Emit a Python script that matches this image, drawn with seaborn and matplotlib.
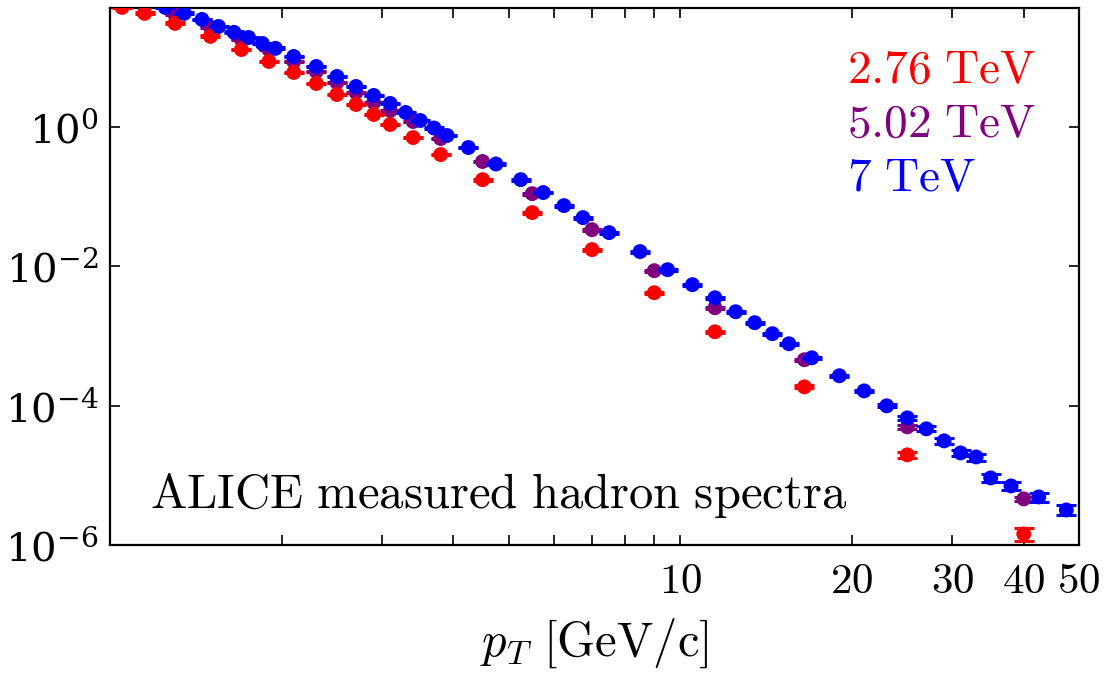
import numpy as np
import pandas as pd
import matplotlib
matplotlib.use("Agg")
import matplotlib.pyplot as plt
import matplotlib.ticker as mticker
import seaborn as sns

# ---- data ----
pt_276 = [1.05, 1.15, 1.3, 1.5, 1.7, 1.9, 2.1, 2.3, 2.5, 2.7, 2.9, 3.1, 3.4, 3.8,
          4.5, 5.5, 7.0, 9.0, 11.5, 16.5, 25.0, 40.0]
y_276 = [51, 41.9, 30.1, 19.6, 12.7, 8.57, 5.96, 4.14, 2.88, 2.07, 1.49, 1.07, 0.695, 0.396,
         0.173, 0.0583, 0.0172, 0.00414, 0.00114, 1.85e-4, 1.96e-5, 1.44e-6]
rel_276 = [0.03, 0.03, 0.03, 0.03, 0.03, 0.03, 0.03, 0.03, 0.03, 0.03, 0.03, 0.03, 0.03, 0.03,
           0.03, 0.03, 0.03, 0.03, 0.03, 0.05, 0.10, 0.20]

pt_502 = [1.15, 1.3, 1.5, 1.7, 1.9, 2.1, 2.3, 2.5, 2.7, 2.9, 3.1, 3.4, 3.8,
          4.5, 5.5, 7.0, 9.0, 11.5, 16.5, 25.0, 40.0]
y_502 = [52.8, 40.5, 26.4, 17.7, 12.7, 8.57, 6.16, 4.28, 3.08, 2.21, 1.70, 1.18, 0.673,
         0.315, 0.109, 0.0332, 0.00857, 0.00252, 4.53e-4, 4.94e-5, 4.58e-6]
rel_502 = [0.03, 0.03, 0.03, 0.03, 0.03, 0.03, 0.03, 0.03, 0.03, 0.03, 0.03, 0.03, 0.03,
           0.03, 0.03, 0.03, 0.03, 0.03, 0.04, 0.06, 0.06]

pt_7 = [1.25, 1.35, 1.45, 1.55, 1.65, 1.75, 1.85, 1.95, 2.1, 2.3, 2.5, 2.7, 2.9, 3.1,
        3.3, 3.5, 3.7, 3.9, 4.25, 4.75, 5.25, 5.75, 6.25, 6.75, 7.5, 8.5, 9.5, 10.5,
        11.5, 12.5, 13.5, 14.5, 15.5, 17, 19, 21, 23, 25, 27, 29, 31, 33, 35, 38, 42.5, 47.5]
y_7 = [51, 41.9, 34.3, 27.2, 22.4, 18.9, 15.5, 13.2, 10.1, 7.26, 5.22, 3.75, 2.79, 2.14,
       1.59, 1.22, 0.952, 0.743, 0.50, 0.29, 0.173, 0.113, 0.0735, 0.0494, 0.0301, 0.0161,
       0.00886, 0.0054, 0.00351, 0.00221, 0.00154, 0.00107, 7.68e-4, 4.83e-4, 2.67e-4,
       1.62e-4, 9.9e-5, 6.65e-5, 4.63e-5, 3.11e-5, 2.09e-5, 1.83e-5, 9.16e-6, 7.03e-6,
       4.89e-6, 3.18e-6]
rel_7 = [0.03, 0.03, 0.03, 0.03, 0.03, 0.03, 0.03, 0.03, 0.03, 0.03, 0.03, 0.03, 0.03, 0.03,
         0.03, 0.03, 0.03, 0.03, 0.03, 0.03, 0.03, 0.03, 0.03, 0.03, 0.03, 0.03, 0.03, 0.03,
         0.03, 0.03, 0.03, 0.03, 0.03, 0.035, 0.04, 0.045, 0.05, 0.065, 0.08, 0.09, 0.10,
         0.12, 0.13, 0.13, 0.15, 0.16]

energies = ["2.76 TeV", "5.02 TeV", "7 TeV"]
colors = {"2.76 TeV": "#ff0000", "5.02 TeV": "#800080", "7 TeV": "#0000ff"}
x_ticks = [10, 20, 30, 40, 50]

frames = []
for lab, x, y, r in [("2.76 TeV", pt_276, y_276, rel_276),
                     ("5.02 TeV", pt_502, y_502, rel_502),
                     ("7 TeV", pt_7, y_7, rel_7)]:
    frames.append(pd.DataFrame({"pt": x, "y": y, "rel": r, "energy": lab}))
df = pd.concat(frames, ignore_index=True)

# ---- style ----
sns.set_style("ticks")
plt.rcParams["mathtext.fontset"] = "cm"
plt.rcParams["font.family"] = ["DejaVu Serif"]
plt.rcParams["text.color"] = "black"
plt.rcParams["xtick.color"] = "black"
plt.rcParams["ytick.color"] = "black"
plt.rcParams["axes.labelcolor"] = "black"

fig = plt.figure(figsize=(11.05, 6.74), dpi=100)
ax = fig.add_axes([0.0995, 0.1914, 0.8770, 0.7967])

draw_order = ["5.02 TeV", "2.76 TeV", "7 TeV"]
for z, lab in enumerate(draw_order):
    d = df[df["energy"] == lab]
    yerr = d["y"].values * d["rel"].values
    ax.errorbar(d["pt"], d["y"], yerr=yerr, fmt="none", ecolor=colors[lab],
                elinewidth=2.0, capsize=7, capthick=2.2, zorder=2 + 2 * z)
    sns.scatterplot(data=d, x="pt", y="y", color=colors[lab], s=115,
                    edgecolor="none", ax=ax, zorder=3 + 2 * z, legend=False)

ax.set_xscale("log")
ax.set_yscale("log")
ax.set_xlim(1, 50)
ax.set_ylim(1e-6, 50)

# x ticks
ax.xaxis.set_major_locator(mticker.FixedLocator(x_ticks))
ax.xaxis.set_major_formatter(mticker.FixedFormatter([f"${v}$" for v in x_ticks]))
ax.xaxis.set_minor_locator(mticker.FixedLocator([2, 3, 4, 5, 6, 7, 8, 9]))
ax.xaxis.set_minor_formatter(mticker.NullFormatter())
# y ticks
ax.yaxis.set_major_locator(mticker.FixedLocator([1e-6, 1e-4, 1e-2, 1e0]))
ax.yaxis.set_major_formatter(mticker.LogFormatterMathtext())
ax.yaxis.set_minor_locator(mticker.NullLocator())

ax.tick_params(which="both", direction="in", top=True, right=True,
               width=1.2, length=7, color="black", labelcolor="black")
ax.tick_params(axis="x", which="major", labelsize=31, pad=11)
ax.tick_params(axis="y", which="major", labelsize=29, pad=8)

for sp in ax.spines.values():
    sp.set_linewidth(1.6)
    sp.set_color("black")

ax.set_xlabel(r"$p_T\ [\mathrm{GeV/c}]$", fontsize=35, labelpad=10, color="black")
ax.set_ylabel("")

ax.text(0.041, 0.069, r"$\mathrm{ALICE\ measured\ hadron\ spectra}$",
        transform=ax.transAxes, fontsize=35, ha="left", va="baseline", color="black")

for lab, yb in zip(energies, [0.860, 0.760, 0.659]):
    ax.text(0.7606, yb, r"$\mathrm{" + lab.replace(" ", r"\ ") + "}$",
            transform=ax.transAxes, fontsize=34, ha="left", va="baseline",
            color=colors[lab])

fig.savefig("out.png", dpi=100)
